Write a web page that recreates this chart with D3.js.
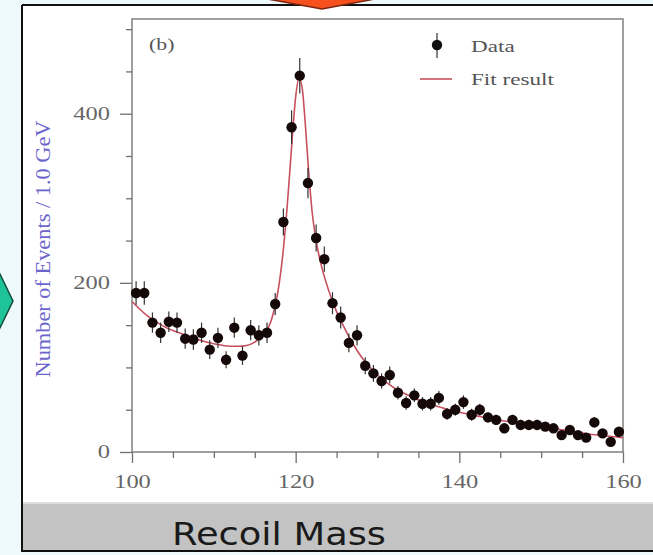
<!DOCTYPE html>
<html>
<head>
<meta charset="utf-8">
<script src="https://cdn.jsdelivr.net/npm/d3@7"></script>
<style>
  html, body { margin: 0; padding: 0; background: #eef9fb; }
  svg { display: block; }
</style>
</head>
<body>
<script>
// Data
var binCenters = [100.5,101.5,102.5,103.5,104.5,105.5,106.5,107.5,108.5,109.5,
                  110.5,111.5,112.5,113.5,114.5,115.5,116.5,117.5,118.5,119.5,
                  120.5,121.5,122.5,123.5,124.5,125.5,126.5,127.5,128.5,129.5,
                  130.5,131.5,132.5,133.5,134.5,135.5,136.5,137.5,138.5,139.5,
                  140.5,141.5,142.5,143.5,144.5,145.5,146.5,147.5,148.5,149.5,
                  150.5,151.5,152.5,153.5,154.5,155.5,156.5,157.5,158.5,159.5];
var counts = [188,188,153,141,154,153,134,133,141,121,
              135,109,147,114,144,138,141,175,272,384,
              445,318,253,228,176,159,129,138,102,93,
              84,91,70,58,67,57,57,64,45,50,
              59,44,50,41,38,28,38,32,32,32,
              30,28,20,26,20,17,35,22,12,24];
var errors = [14,14,12,12,12,12,12,12,12,11,
              12,10,12,11,12,12,12,13,16,20,
              21,18,16,15,13,13,11,12,10,10,
              9,10,8,8,8,8,8,8,7,7,
              8,7,7,6,6,5,6,6,6,6,
              5,5,4,5,4,4,6,5,3,5];

var fitX = [100,102,104,106,108,110,112,113,114,115,116,117,118,118.5,119,119.5,
            120,120.4,120.8,121.2,121.6,122,122.5,123,124,125,126,127,128,129,130,
            132,134,136,138,140,142,144,146,148,150,152,154,156,158,160];
var fitY = [178,160,148,140,133,128,125,125,126,130,138,155,200,240,295,360,
            420,442,430,385,330,285,250,226,192,166,146,128,113,101,91,
            76,66,58,52,47,43,39,36,33,30,27,24,21,19,17];

var xMajor = [100,120,140,160];
var xMinor = [105,110,115,125,130,135,145,150,155];
var yMajor = [0,200,400];
var yMinor = [50,100,150,250,300,350,450,500];

var width = 653, height = 555;
var stretch = 1.36; // the picture's text is wider than it is tall

var svg = d3.select("body")
  .append("svg")
    .attr("width", width)
    .attr("height", height);

// widen a text selection horizontally, keeping its anchor
function widen(sel) {
  sel.each(function() {
    var len = this.getComputedTextLength();
    d3.select(this)
      .attr("textLength", len * stretch)
      .attr("lengthAdjust", "spacingAndGlyphs");
  });
}

// slide background pieces
svg.append("rect").attr("x", 0).attr("y", 0).attr("width", width).attr("height", height).attr("fill", "#eef9fb");
svg.append("rect").attr("x", 22).attr("y", 5).attr("width", width - 22).attr("height", 546).attr("fill", "#ffffff");
svg.append("rect").attr("x", 22).attr("y", 502).attr("width", width - 22).attr("height", 49).attr("fill", "#c3c3c3");
svg.append("line").attr("x1", 22).attr("x2", width).attr("y1", 503).attr("y2", 503).attr("stroke", "#dedede").attr("stroke-width", 2);
svg.append("path")
  .attr("d", "M22,5 H" + width + " M22,5 V551 H" + width)
  .attr("fill", "none").attr("stroke", "#111").attr("stroke-width", 2);
svg.append("text")
  .attr("x", 172).attr("y", 545)
  .attr("font-family", "DejaVu Sans, sans-serif")
  .attr("font-size", 32)
  .attr("fill", "#1a1a1a")
  .attr("textLength", 214)
  .attr("lengthAdjust", "spacingAndGlyphs")
  .text("Recoil Mass");

// arrows
svg.append("path")
  .attr("d", "M262,-2 L380,-2 L322,9 Z")
  .attr("fill", "#f5501e").attr("stroke", "#7a2410").attr("stroke-width", 1.5);
svg.append("path")
  .attr("d", "M-2,270 L13,301 L-2,332 Z")
  .attr("fill", "#1fc39a").attr("stroke", "#0e4a3a").attr("stroke-width", 1.5);

// scales
var x = d3.scaleLinear().domain([100, 160]).range([132, 623]);
var y = d3.scaleLinear().domain([0, 512]).range([452, 19]);

var plot = svg.append("g");

// frame
plot.append("rect")
  .attr("x", x(100)).attr("y", y(512))
  .attr("width", x(160) - x(100)).attr("height", y(0) - y(512))
  .attr("fill", "none").attr("stroke", "#808080").attr("stroke-width", 1.5);

// axes
function styleAxis(g) {
  g.select(".domain").remove();
  g.selectAll(".tick line").attr("stroke", "#707070").attr("stroke-width", 1.3);
  g.selectAll(".tick text")
    .attr("font-family", "Liberation Serif, serif")
    .attr("font-size", 18)
    .attr("fill", "#666")
    .call(widen);
}

plot.append("g")
  .attr("transform", "translate(0," + y(0) + ")")
  .call(d3.axisBottom(x).tickValues(xMajor).tickSize(11).tickPadding(12).tickFormat(d3.format("d")))
  .call(styleAxis);
plot.append("g")
  .attr("transform", "translate(0," + y(0) + ")")
  .call(d3.axisBottom(x).tickValues(xMinor).tickSize(6).tickFormat(""))
  .call(styleAxis);

plot.append("g")
  .attr("transform", "translate(" + x(100) + ",0)")
  .call(d3.axisLeft(y).tickValues(yMajor).tickSize(12).tickPadding(10).tickFormat(d3.format("d")))
  .call(styleAxis);
plot.append("g")
  .attr("transform", "translate(" + x(100) + ",0)")
  .call(d3.axisLeft(y).tickValues(yMinor).tickSize(6).tickFormat(""))
  .call(styleAxis);

// y axis title
svg.append("text")
  .attr("transform", "translate(50,249) rotate(-90)")
  .attr("text-anchor", "middle")
  .attr("font-family", "Liberation Serif, serif")
  .attr("font-size", 20)
  .attr("fill", "#6c66cc")
  .attr("textLength", 257)
  .attr("lengthAdjust", "spacingAndGlyphs")
  .text("Number of Events / 1.0 GeV");

// (b)
plot.append("text")
  .attr("x", 149).attr("y", 50)
  .attr("font-family", "Liberation Serif, serif")
  .attr("font-size", 16)
  .attr("fill", "#555")
  .text("(b)")
  .call(widen);

// fit curve
var fitPoints = fitX.map(function(d, i) { return [d, fitY[i]]; });
plot.append("path")
  .attr("fill", "none")
  .attr("stroke", "#c8505e")
  .attr("stroke-width", 1.6)
  .attr("d", d3.line()
    .x(function(d) { return x(d[0]); })
    .y(function(d) { return y(d[1]); })
    .curve(d3.curveMonotoneX)(fitPoints));

// data points with error bars
var pts = binCenters.map(function(d, i) { return { x: d, y: counts[i], e: errors[i] }; });
plot.selectAll(".err")
  .data(pts)
  .enter()
  .append("line")
    .attr("class", "err")
    .attr("x1", function(d) { return x(d.x); })
    .attr("x2", function(d) { return x(d.x); })
    .attr("y1", function(d) { return y(d.y - d.e); })
    .attr("y2", function(d) { return y(d.y + d.e); })
    .attr("stroke", "#333")
    .attr("stroke-width", 1.2);
plot.selectAll(".dot")
  .data(pts)
  .enter()
  .append("circle")
    .attr("class", "dot")
    .attr("cx", function(d) { return x(d.x); })
    .attr("cy", function(d) { return y(d.y); })
    .attr("r", 5.2)
    .attr("fill", "#150808");

// legend
var legend = plot.append("g");
legend.append("line")
  .attr("x1", 437).attr("x2", 437).attr("y1", 33).attr("y2", 58)
  .attr("stroke", "#333").attr("stroke-width", 1.2);
legend.append("circle").attr("cx", 437).attr("cy", 45).attr("r", 5.2).attr("fill", "#111");
legend.append("line")
  .attr("x1", 420).attr("x2", 452).attr("y1", 79).attr("y2", 79)
  .attr("stroke", "#c8505e").attr("stroke-width", 1.6);
legend.append("text")
  .attr("x", 471).attr("y", 52)
  .attr("font-family", "Liberation Serif, serif").attr("font-size", 17).attr("fill", "#555")
  .text("Data")
  .call(widen);
legend.append("text")
  .attr("x", 471).attr("y", 85)
  .attr("font-family", "Liberation Serif, serif").attr("font-size", 17).attr("fill", "#555")
  .text("Fit result")
  .call(widen);
</script>
</body>
</html>
